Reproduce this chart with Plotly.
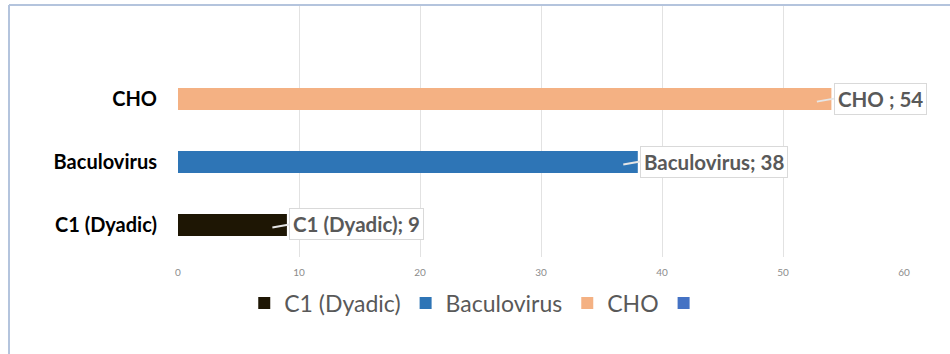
import plotly.graph_objects as go

categories = ["C1 (Dyadic)", "Baculovirus", "CHO"]
values = [9, 38, 54]
label_texts = ["C1 (Dyadic); 9", "Baculovirus; 38", "CHO ; 54"]
series_names = ["C1 (Dyadic)", "Baculovirus", "CHO", " "]
colors = ["#1e1604", "#2e75b6", "#f4b183", "#4472c4"]
x_ticks = [0, 10, 20, 30, 40, 50, 60]

W, H = 950, 354
ML, MR, MT, MB = 178, 46, 6, 97
PW, PH = W - ML - MR, H - MT - MB

fig = go.Figure()
for i in range(3):
    fig.add_trace(go.Bar(
        x=[values[i]], y=[categories[i]], orientation="h",
        name=series_names[i], marker=dict(color=colors[i], line=dict(width=0)),
        width=0.35, hoverinfo="x+y",
    ))
fig.add_trace(go.Bar(
    x=[None], y=[categories[0]], orientation="h",
    name=series_names[3], marker=dict(color=colors[3], line=dict(width=0)),
    width=0.35,
))

for i in range(3):
    fig.add_annotation(
        x=values[i] - 1.2, y=i - 0.04, xref="x", yref="y",
        text=label_texts[i], showarrow=True, arrowhead=0, arrowwidth=2,
        arrowcolor="#e6e6e6", ax=17, ay=-3, xanchor="left",
        font=dict(family="Lato", size=20.5, color="#595959", weight="bold"),
        bgcolor="white", bordercolor="#d9d9d9", borderwidth=1, borderpad=3,
    )

def px_x(p):
    return (p - ML) / PW

def px_y(p):
    return (H - MB - p) / PH

border = dict(color="#b4c4dd", width=2)
fig.add_shape(type="line", xref="paper", yref="paper",
              x0=px_x(9), x1=px_x(9), y0=px_y(354), y1=px_y(5), line=border)
fig.add_shape(type="line", xref="paper", yref="paper",
              x0=px_x(9), x1=px_x(950), y0=px_y(5), y1=px_y(5), line=border)

fig.update_layout(
    width=W, height=H,
    margin=dict(l=ML, r=MR, t=MT, b=MB, autoexpand=False),
    paper_bgcolor="white", plot_bgcolor="white",
    barmode="overlay",
    showlegend=True,
    legend=dict(
        orientation="h", xref="container", yref="container",
        x=0.505, xanchor="center", y=(H - 303) / H, yanchor="middle",
        font=dict(family="Lato", size=23, color="#595959"),
        traceorder="normal",
    ),
    xaxis=dict(
        range=[0, 60], tickvals=x_ticks, showgrid=True, gridcolor="#e2e2e2",
        gridwidth=1, zeroline=False, showline=False,
        tickfont=dict(family="Lato", size=10, color="#8c8c8c"),
        ticks="", ticklabelstandoff=8,
    ),
    yaxis=dict(
        type="category", categoryorder="array", categoryarray=categories,
        range=[-0.51, 3.48], showgrid=False, zeroline=False, showline=False,
        tickfont=dict(family="Lato", size=20, color="black", weight="bold"),
        ticks="", ticklabelstandoff=20,
    ),
)

fig.write_html("out.html")
